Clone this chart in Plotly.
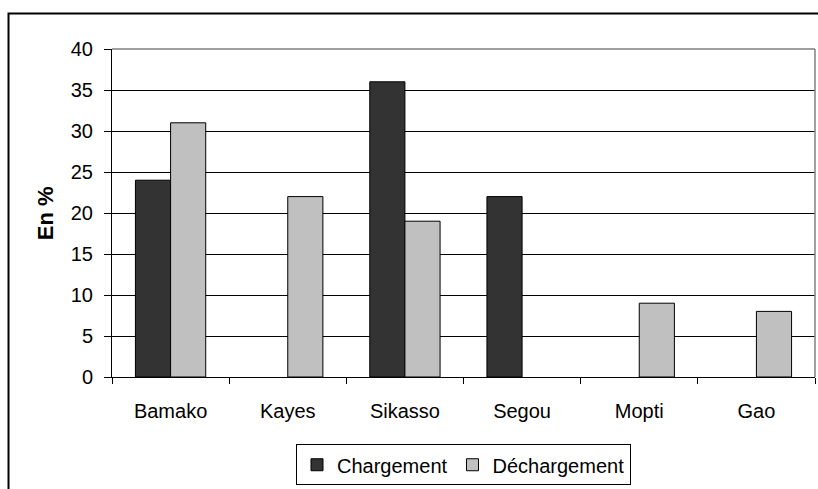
import plotly.graph_objects as go

categories = ["Bamako", "Kayes", "Sikasso", "Segou", "Mopti", "Gao"]
chargement = [24, None, 36, 22, None, None]
dechargement = [31, 22, 19, None, 9, 8]
y_ticks = [0, 5, 10, 15, 20, 25, 30, 35, 40]

FONT = "Liberation Sans, Arial, sans-serif"

fig = go.Figure()
fig.add_trace(go.Bar(name="Chargement", x=categories, y=chargement,
                     marker=dict(color="#333333", line=dict(color="black", width=1))))
fig.add_trace(go.Bar(name="Déchargement", x=categories, y=dechargement,
                     marker=dict(color="#C0C0C0", line=dict(color="black", width=1))))

fig.update_layout(
    width=818, height=489,
    margin=dict(l=112, r=3, t=49, b=112),
    paper_bgcolor="white", plot_bgcolor="white",
    barmode="group", bargap=0.4, bargroupgap=0,
    font=dict(family=FONT, size=20, color="black"),
    showlegend=True,
    legend=dict(orientation="h", x=0.5, xanchor="center", y=-0.205, yanchor="top",
                bordercolor="black", borderwidth=1, bgcolor="white",
                font=dict(family=FONT, size=20, color="black"),
                itemwidth=30, tracegroupgap=0),
    xaxis=dict(showline=True, linecolor="black", linewidth=1, ticks="outside",
               tickson="boundaries", ticklen=6, tickcolor="black", showgrid=False,
               tickfont=dict(family=FONT, size=20), zeroline=False,
               ticklabelstandoff=16),
    yaxis=dict(range=[0, 40], tickvals=y_ticks, showline=True, linecolor="black",
               linewidth=1, ticks="outside", ticklen=7, tickcolor="black",
               showgrid=True, gridcolor="black", gridwidth=1, zeroline=False,
               tickfont=dict(family=FONT, size=20), ticklabelstandoff=7),
    annotations=[dict(text="<b>En %</b>", x=-0.095, y=0.5, xref="paper", yref="paper",
                      textangle=-90, showarrow=False, xanchor="center", yanchor="middle",
                      font=dict(family=FONT, size=22, color="black"))],
    shapes=[
        dict(type="line", xref="paper", yref="paper", x0=0, x1=1, y0=1, y1=1,
             line=dict(color="#808080", width=1.5), layer="above"),
        dict(type="line", xref="paper", yref="paper", x0=1, x1=1, y0=0, y1=1,
             line=dict(color="#808080", width=1.5), layer="above"),
        dict(type="rect", xref="paper", yref="paper", x0=-0.1472, x1=1.02, y0=-0.5, y1=1.1082,
             line=dict(color="black", width=2), layer="above"),
    ],
)

fig.write_html(
    "out.html",
    config={"displayModeBar": False},
    post_script="document.body.style.margin='0';document.body.style.overflow='hidden';",
)
